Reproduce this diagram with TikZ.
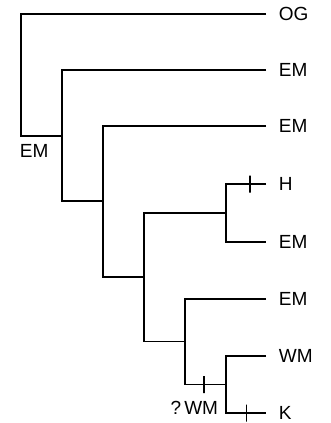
\documentclass[tikz,border=0pt]{standalone}
\usepackage{fontspec}
\setmainfont{Liberation Sans}
\usetikzlibrary{positioning}

\begin{document}
\begin{tikzpicture}[x=1pt, y=-1pt, line width=1.9pt,
        leaf/.style={inner sep=0pt, font=\fontsize{19}{22}\selectfont},
        tick/.style={draw, line width=1.3pt, inner sep=0pt, minimum width=0pt, minimum height=17pt}]
        \useasboundingbox (0,0) rectangle (331,423);

        % tips of the branches
        \coordinate (og_tip) at (266,14);
        \coordinate (em_a_tip) at (266,70);
        \coordinate (em_b_tip) at (266,126);
        \coordinate (h_tip) at (266,184);
        \coordinate (em_c_tip) at (266,242);
        \coordinate (em_d_tip) at (266,299);
        \coordinate (wm_tip) at (266,356);
        \coordinate (k_tip) at (266,413);

        \node [leaf, right=12pt of og_tip] (og) {OG};
        \node [leaf, right=12pt of em_a_tip] (em_a) {EM};
        \node [leaf, right=12pt of em_b_tip] (em_b) {EM};
        \node [leaf, right=12pt of h_tip] (h) {H};
        \node [leaf, right=12pt of em_c_tip] (em_c) {EM};
        \node [leaf, right=12pt of em_d_tip] (em_d) {EM};
        \node [leaf, right=12pt of wm_tip] (wm) {WM};
        \node [leaf, right=12pt of k_tip] (k) {K};

        % inner nodes
        \coordinate (root) at (21,75);
        \coordinate (n2) at (62,136);
        \coordinate (n3) at (103,201);
        \coordinate (n4) at (144,277);
        \coordinate (n5) at (226,213);
        \coordinate (n6) at (185,341.5);
        \coordinate (n7) at (226,384.5);

        \draw (og_tip) -| (root) |- (n2);
        \draw (em_a_tip) -| (n2) |- (n3);
        \draw (em_b_tip) -| (n3) |- (n4);
        \draw (n5) -| (n4) |- (n6);
        \draw (h_tip) -| node[tick, pos=0.2] {} (n5) |- (em_c_tip);
        \draw (em_d_tip) -| (n6) |- node[tick, pos=0.73] {} (n7);
        \draw (wm_tip) -| (n7) |- node[tick, pos=0.76] {} (k_tip);

        \node [leaf, anchor=north west] (root_state) at (19,143) {EM};
        \node [leaf, anchor=east] (n7_state) at (219,408) {?\kern3pt WM};

    \end{tikzpicture}
\end{document}
